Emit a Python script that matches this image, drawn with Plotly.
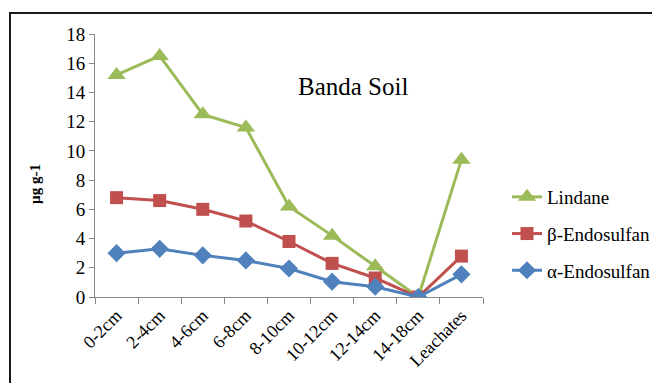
import plotly.graph_objects as go

categories = ["0-2cm", "2-4cm", "4-6cm", "6-8cm", "8-10cm", "10-12cm", "12-14cm", "14-18cm", "Leachates"]
lindane = [15.2, 16.5, 12.5, 11.6, 6.2, 4.2, 2.1, 0.0, 9.4]
beta_endo = [6.8, 6.6, 6.0, 5.2, 3.8, 2.3, 1.3, 0.0, 2.8]
alpha_endo = [3.0, 3.3, 2.85, 2.5, 1.95, 1.05, 0.7, 0.0, 1.55]
y_ticks = [0, 2, 4, 6, 8, 10, 12, 14, 16, 18]

FONT = "Liberation Serif, Times New Roman, serif"

# page offset compensation (browser body margin)
OX, OY = 8, 8
W, H = 660, 383
L, R, T, B = 95 - OX, 483 - OX, 34 - OY, 297 - OY  # plot area in figure px
pw, ph = R - L, B - T


def px(x):
    return (x - OX - L) / pw


def py(y):
    return (B - (y - OY)) / ph


fig = go.Figure()
fig.add_trace(go.Scatter(x=categories, y=lindane, name="Lindane", mode="lines+markers",
                         legendgroup="a",
                         line=dict(color="#9BBB59", width=3),
                         marker=dict(symbol="triangle-up", size=16, color="#9BBB59")))
fig.add_trace(go.Scatter(x=categories, y=beta_endo, name="β-Endosulfan", mode="lines+markers",
                         legendgroup="b",
                         line=dict(color="#C0504D", width=3),
                         marker=dict(symbol="square", size=13, color="#C0504D")))
fig.add_trace(go.Scatter(x=categories, y=alpha_endo, name="α-Endosulfan", mode="lines+markers",
                         legendgroup="c",
                         line=dict(color="#4F81BD", width=3),
                         marker=dict(symbol="diamond", size=14, color="#4F81BD")))

fig.update_layout(
    width=W, height=H,
    margin=dict(l=L, r=W - R, t=T, b=H - B, autoexpand=False),
    paper_bgcolor="white", plot_bgcolor="white",
    font=dict(family=FONT, color="black", size=18),
    showlegend=True,
    legend=dict(x=px(507), y=py(234), xanchor="left", yanchor="middle",
                font=dict(family=FONT, size=19, color="black"),
                tracegroupgap=9, itemwidth=30, bgcolor="rgba(0,0,0,0)"),
    xaxis=dict(type="category", showgrid=False, showline=True, linecolor="#868686",
               linewidth=1, ticks="outside", tickson="boundaries", ticklen=6,
               tickcolor="#868686", tickangle=-45, tickfont=dict(family=FONT, size=18),
               range=[-0.5, 8.5], automargin=False),
    yaxis=dict(range=[0, 18], tickvals=y_ticks, showgrid=False, showline=True,
               linecolor="#868686", linewidth=1, ticks="outside", ticklen=5,
               tickcolor="#868686", tickfont=dict(family=FONT, size=19), zeroline=False,
               automargin=False),
    annotations=[
        dict(text="Banda Soil", x=px(353), y=py(87), xref="paper", yref="paper",
             xanchor="center", yanchor="middle", showarrow=False,
             font=dict(family=FONT, size=25, color="black")),
        dict(text="<b>µg g-1</b>", x=px(35), y=py(184), xref="paper", yref="paper",
             xanchor="center", yanchor="middle", showarrow=False, textangle=-90,
             font=dict(family=FONT, size=15, color="black")),
    ],
    shapes=[
        dict(type="line", xref="paper", yref="paper", x0=px(9), x1=px(720), y0=py(13), y1=py(13),
             line=dict(color="#1a1a1a", width=2)),
        dict(type="line", xref="paper", yref="paper", x0=px(10), x1=px(10), y0=py(12), y1=py(420),
             line=dict(color="#1a1a1a", width=2)),
    ],
)

fig.write_html("out.html")
